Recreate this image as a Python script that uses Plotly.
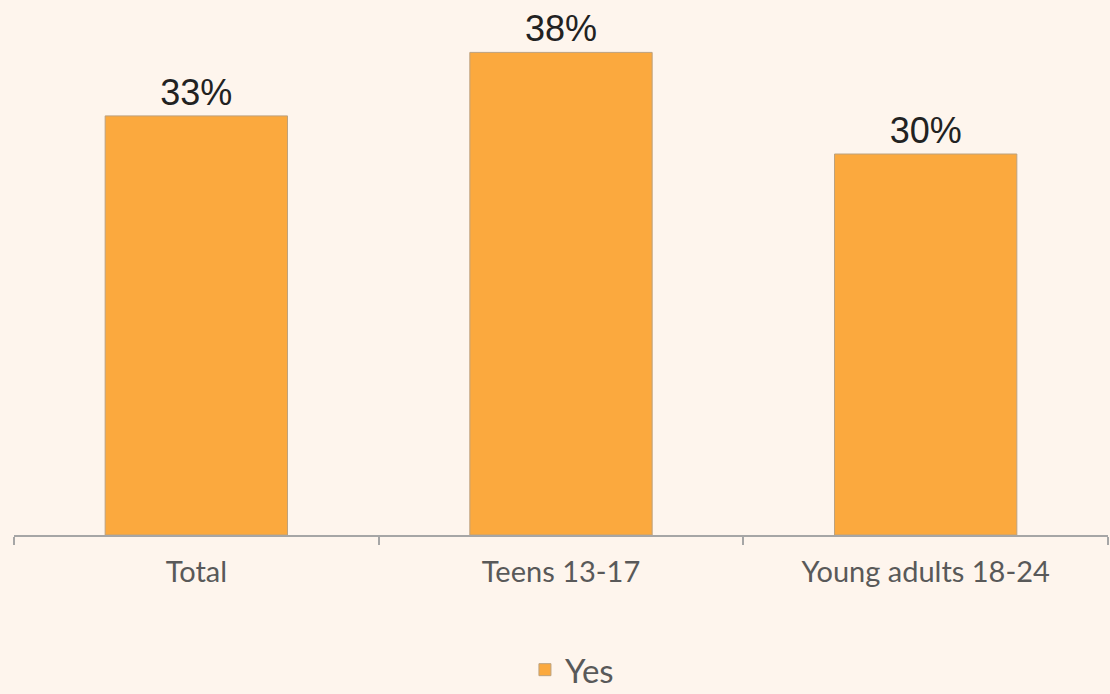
import plotly.graph_objects as go

# dados do gráfico
categorias = ["Total", "Teens 13-17", "Young adults 18-24"]
valores = [0.33, 0.38, 0.30]
rotulos = ["33%", "38%", "30%"]

fig = go.Figure(data=[go.Bar(
    x=categorias,
    y=valores,
    name="Yes",
    text=rotulos,
    textposition="outside",
    textfont=dict(family="Liberation Sans, Arial", size=36, color="#222222"),
    cliponaxis=False,
    width=0.5,
    marker=dict(color="#fba93e", line=dict(color="#bca27f", width=1)),
)])

fig.update_layout(
    width=1110,
    height=694,
    margin=dict(l=14, r=2, t=27, b=159),
    paper_bgcolor="#fef5ed",
    plot_bgcolor="#fef5ed",
    showlegend=True,
    legend=dict(
        orientation="h",
        x=0.51, xanchor="center",
        yref="container", y=0.035, yanchor="middle",
        font=dict(family="Lato, Open Sans", size=33, color="#595959"),
        itemwidth=30,
    ),
    xaxis=dict(
        showline=True, linecolor="#a6a6a6", linewidth=2,
        ticks="outside", tickson="boundaries", ticklen=8,
        tickcolor="#a6a6a6", tickwidth=2,
        tickfont=dict(family="Lato, Open Sans", size=29, color="#595959"),
        ticklabelstandoff=10,
        showgrid=False,
    ),
    yaxis=dict(
        range=[0, 0.40], visible=False, showgrid=False,
    ),
)

# tira a margem padrão da página
fig.write_html("out.html", config={"displayModeBar": False},
               post_script="document.body.style.margin='0';")
